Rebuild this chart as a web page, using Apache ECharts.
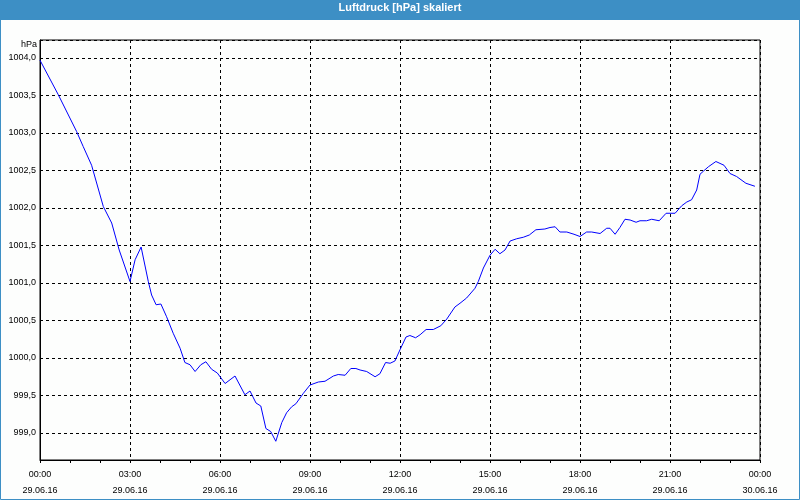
<!DOCTYPE html>
<html>
<head>
<meta charset="utf-8">
<script src="https://cdn.jsdelivr.net/npm/echarts@6/dist/echarts.min.js"></script>
<style>
html,body{margin:0;padding:0;background:#fdfefd;}
#c{width:800px;height:500px;}
</style>
</head>
<body>
<div id="c"></div>
<script>
// Time in hours since 29.06.16 00:00
var hours = [0.00,0.61,1.22,1.44,1.72,2.11,2.39,2.64,3.00,3.17,3.37,3.61,3.72,3.87,4.03,4.22,4.44,4.67,4.83,5.00,
5.17,5.36,5.53,5.72,5.91,6.17,6.50,6.83,7.00,7.20,7.36,7.53,7.69,7.86,8.06,8.22,8.39,8.53,8.78,9.00,
9.28,9.50,9.78,9.94,10.17,10.36,10.53,10.67,10.89,11.17,11.33,11.52,11.67,11.83,12.00,12.20,12.33,12.52,12.67,12.87,
13.11,13.36,13.56,13.83,14.00,14.22,14.50,14.61,14.78,15.00,15.17,15.33,15.50,15.67,15.89,16.11,16.31,16.53,16.83,17.00,
17.17,17.33,17.56,17.80,18.00,18.22,18.39,18.67,18.89,19.00,19.17,19.33,19.50,19.67,19.87,20.00,20.22,20.39,20.64,20.87,
21.17,21.39,21.56,21.72,21.89,22.00,22.11,22.28,22.53,22.80,23.00,23.22,23.53,23.83];
var pressure = [1003.97,1003.51,1003.02,1002.82,1002.57,1002.02,1001.80,1001.44,1001.02,1001.31,1001.48,1001.02,1000.84,1000.71,1000.72,1000.55,1000.33,1000.13,999.94,999.91,
999.82,999.91,999.95,999.85,999.80,999.66,999.76,999.51,999.56,999.40,999.36,999.06,999.02,998.89,999.14,999.27,999.35,999.39,999.53,999.64,
999.68,999.69,999.76,999.78,999.77,999.86,999.86,999.84,999.82,999.75,999.79,999.94,999.93,999.96,1000.11,1000.28,1000.30,1000.27,1000.31,1000.38,
1000.38,1000.43,1000.52,1000.68,1000.73,1000.80,1000.93,1001.02,1001.20,1001.37,1001.45,1001.39,1001.44,1001.56,1001.59,1001.61,1001.64,1001.71,1001.72,1001.74,
1001.75,1001.68,1001.68,1001.65,1001.62,1001.68,1001.68,1001.66,1001.73,1001.73,1001.65,1001.74,1001.85,1001.84,1001.81,1001.83,1001.83,1001.85,1001.83,1001.93,
1001.93,1002.03,1002.08,1002.11,1002.24,1002.45,1002.49,1002.55,1002.62,1002.57,1002.46,1002.42,1002.33,1002.29];
var xTimeLabels = ['00:00','03:00','06:00','09:00','12:00','15:00','18:00','21:00','00:00'];
var xDateLabels = ['29.06.16','29.06.16','29.06.16','29.06.16','29.06.16','29.06.16','29.06.16','29.06.16','30.06.16'];
var titleText = 'Luftdruck [hPa] skaliert';
var unitText = 'hPa';

var data = hours.map(function(h,i){return [h, pressure[i]];});
var FONT = 'Liberation Sans';
var chart = echarts.init(document.getElementById('c'), null, {renderer:'canvas'});
chart.setOption({
  animation:false,
  backgroundColor:'#fdfefd',
  graphic:[
    {type:'rect', shape:{x:0,y:0,width:800,height:20}, style:{fill:'#3d8fc5'}, z:0},
    {type:'rect', shape:{x:0.5,y:0.5,width:799,height:499}, style:{fill:'none',stroke:'#3d8fc5',lineWidth:1}, z:0}
  ],
  title:{text:titleText, left:'center', top:2, padding:0,
    textStyle:{color:'#ffffff', fontSize:11, fontWeight:'bold', fontFamily:FONT}},
  grid:{left:40, right:40, top:40, bottom:40, show:true, borderColor:'#000', borderWidth:1, backgroundColor:'transparent'},
  xAxis:{type:'value', min:0, max:24, interval:3,
    axisLine:{lineStyle:{color:'#000',width:1}},
    axisTick:{show:true, length:3, lineStyle:{color:'#000'}},
    minorTick:{show:true, splitNumber:3, length:3, lineStyle:{color:'#000'}},
    splitLine:{show:true, lineStyle:{color:'#000', type:[3,3], width:1}},
    axisLabel:{color:'#000', fontSize:9, fontFamily:FONT, margin:7, lineHeight:16,
      formatter:function(v){var i=Math.round(v/3); return xTimeLabels[i]+'\n'+xDateLabels[i];}}
  },
  yAxis:{type:'value', min:998.64, max:1004.24, minInterval:0.5, maxInterval:0.5,
    name:unitText, nameLocation:'end', nameGap:-5,
    nameTextStyle:{color:'#000', fontSize:9, fontFamily:FONT, align:'right', verticalAlign:'middle', padding:[0,3,0,0]},
    axisLine:{show:true, lineStyle:{color:'#000',width:1}},
    axisTick:{show:false},
    splitLine:{show:true, lineStyle:{color:'#000', type:[3,3], width:1}},
    axisLabel:{color:'#000', fontSize:9, fontFamily:FONT, margin:4, showMinLabel:false, showMaxLabel:false,
      formatter:function(v){return v.toFixed(1).replace('.',',');}}
  },
  series:[{type:'line', data:data, showSymbol:false, symbol:'none',
    lineStyle:{color:'#0000ff', width:1}, itemStyle:{color:'#0000ff'}, z:3}]
});
</script>
</body>
</html>
